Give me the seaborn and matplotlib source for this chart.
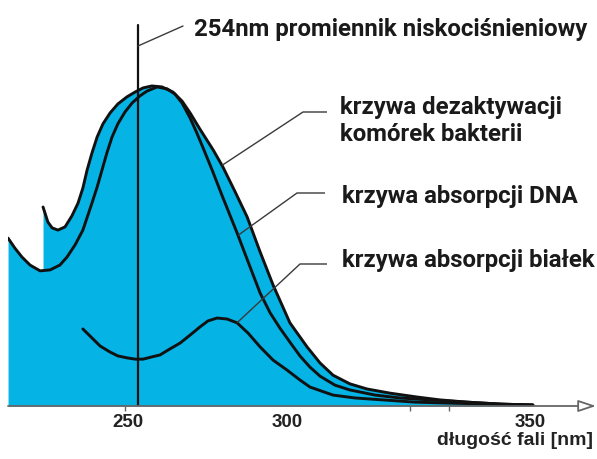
import numpy as np
import pandas as pd
import matplotlib
matplotlib.use("Agg")
import matplotlib.pyplot as plt
import seaborn as sns

# ---------------- data (wavelength nm, relative value %) ----------------
deact_nm = [224.7, 226.2, 227.5, 229.3, 231.5, 233.6, 235.5, 237.0, 238.3, 239.8,
            241.4, 243.2, 245.4, 247.8, 250.6, 253.1, 255.6, 258.3, 261.4, 264.8,
            267.6, 270.1, 273.1, 277.2, 280.2, 284.0, 287.7, 291.7, 295.7, 300.9,
            306.2, 310.2, 314.2, 319.4, 324.7, 331.8, 340.1, 347.2, 355.6, 365.7, 375.9]
deact_val = [62.0, 57.3, 55.5, 54.8, 55.8, 59.2, 63.2, 67.9, 73.5, 78.8,
             83.8, 87.9, 91.3, 94.1, 96.3, 97.8, 99.1, 99.7, 99.4, 97.8,
             95.0, 91.3, 86.3, 79.8, 74.5, 66.7, 58.9, 48.0, 37.7, 25.9,
             18.4, 13.4, 9.6, 6.9, 5.3, 4.0, 2.8, 1.9, 1.2, 0.6, 0.3]

dna_nm = [213.9, 216.0, 218.2, 220.7, 223.8, 226.9, 229.9, 232.1, 234.6, 237.0,
          239.8, 241.4, 242.9, 244.4, 246.0, 247.8, 250.0, 252.2, 254.6, 256.8,
          259.9, 263.0, 265.4, 267.6, 270.1, 272.2, 274.1, 276.9, 279.9, 284.6,
          288.0, 291.7, 294.8, 297.8, 300.9, 304.0, 307.1, 310.2, 314.8, 319.4,
          327.2, 334.9, 344.1, 355.6, 365.7, 375.9]
dna_val = [52.3, 49.2, 46.4, 43.9, 42.1, 42.4, 43.9, 46.4, 50.2, 54.8,
           63.2, 68.2, 73.5, 78.8, 83.8, 87.9, 91.6, 94.4, 96.6, 98.1,
           99.4, 98.8, 97.2, 94.4, 89.7, 85.0, 80.4, 73.5, 65.7, 53.9,
           44.9, 35.2, 29.0, 24.3, 19.9, 15.6, 12.1, 9.3, 6.5, 5.0,
           3.4, 2.5, 1.9, 1.2, 0.6, 0.3]

prot_nm = [237.0, 239.8, 242.3, 245.4, 247.8, 250.6, 253.1, 255.6, 258.3, 260.8,
           263.9, 267.0, 270.1, 273.1, 275.6, 278.4, 281.5, 284.6, 288.0, 291.7,
           295.7, 300.0, 304.0, 307.1, 314.2, 321.0, 329.6, 339.5, 350.3, 362.7, 375.9]
prot_val = [24.0, 21.2, 18.7, 16.8, 15.6, 15.0, 14.6, 14.6, 15.3, 15.9,
            17.8, 19.6, 22.1, 24.6, 26.5, 27.4, 27.1, 25.9, 22.7, 18.4,
            14.3, 11.2, 8.1, 5.9, 3.4, 2.5, 1.9, 1.2, 0.9, 0.6, 0.3]

lamp_nm = 254
tick_marks = [250, 300, 338, 350]
tick_label_pos = [251, 300, 375]
tick_labels = ["250", "300", "350"]

title_text = "254nm promiennik niskociśnieniowy"
label_deact = ["krzywa dezaktywacji", "komórek bakterii"]
label_dna = "krzywa absorpcji DNA"
label_prot = "krzywa absorpcji białek"
xlabel = "długość fali [nm]"

# ---------------- style ----------------
sns.set_theme(style="white")
plt.rcParams["font.family"] = ["DejaVu Sans"]

W, H = 597, 459
fig = plt.figure(figsize=(W / 100, H / 100), dpi=100)
fig.patch.set_facecolor("white")

# pixel calibration (layout only)
X0PX, NM0, PXNM = 125.0, 250.0, 3.24
Y0PX, PXV = 406.0, 3.21
def px2x(px):
    return NM0 + (px - X0PX) / PXNM
def px2y(py):
    return (Y0PX - py) / PXV

left_px = 8
ax = fig.add_axes([left_px / W, (H - Y0PX) / H, (W - left_px) / W, Y0PX / H])
ax.set_xlim(px2x(left_px), px2x(W))
ax.set_ylim(0, px2y(0))
ax.set_facecolor("none")
for s in ax.spines.values():
    s.set_visible(False)

CYAN = "#06B3E5"
LINE = "#111111"
LEAD = "#3a3a3a"

# fill under outer envelope: DNA curve left of deactivation start, deactivation after
dn = np.array(dna_nm); dv = np.array(dna_val)
bn = np.array(deact_nm); bv = np.array(deact_val)
mask = dn < bn[0]
fx = np.concatenate([dn[mask], [bn[0]], bn])
fy = np.concatenate([dv[mask], [np.interp(bn[0], dn, dv)], bv])
ax.fill_between(fx, fy, 0, color=CYAN, lw=0, zorder=1)

df_b = pd.DataFrame({"nm": deact_nm, "v": deact_val})
df_a = pd.DataFrame({"nm": dna_nm, "v": dna_val})
df_c = pd.DataFrame({"nm": prot_nm, "v": prot_val})
for df in (df_b, df_a, df_c):
    sns.lineplot(data=df, x="nm", y="v", ax=ax, color=LINE, lw=2.1,
                 sort=False, zorder=3)
ax.set_xlabel(""); ax.set_ylabel("")

# 254 nm lamp line
ax.axvline(lamp_nm, ymin=0, ymax=px2y(25) / px2y(0), color=LINE, lw=1.6, zorder=4)

# baseline with open arrow
ax.annotate("", xy=(px2x(596), 0), xytext=(px2x(left_px), 0),
            arrowprops=dict(arrowstyle="-|>,head_length=0.9,head_width=0.3",
                            fc="white", ec="#666666", lw=1.3, shrinkA=0, shrinkB=0),
            annotation_clip=False, zorder=5)

# ticks
ax.set_yticks([])
ax.set_xticks(tick_label_pos)
ax.set_xticklabels(tick_labels, fontfamily="Liberation Sans", fontweight="bold",
                   fontsize=13.5, color="#222222")
ax.tick_params(axis="x", which="major", length=0, pad=5.5, bottom=True)
ax.set_xticks(tick_marks, minor=True)
ax.tick_params(axis="x", which="minor", direction="inout", length=7, width=1.0,
               color="#666666", bottom=True)

# labels + leaders
FS = 17.3
lab_kw = dict(fontfamily="Roboto", fontweight="bold", fontsize=FS, color="#1a1a1a",
              va="baseline", ha="left")

def leader(curve_nm, curve_v, at_nm, elbow_px, end_px):
    yv = np.interp(at_nm, curve_nm, curve_v)
    ex, ey = elbow_px
    ax.plot([at_nm, px2x(ex), px2x(end_px)], [yv, px2y(ey), px2y(ey)],
            color=LEAD, lw=1.0, zorder=4, solid_capstyle="butt")

# title & its leader
ax.plot([lamp_nm, px2x(183)], [px2y(46), px2y(26)], color=LEAD, lw=1.0, zorder=4)
fig.text(194 / W, 1 - 36 / H, title_text, **lab_kw)

leader(deact_nm, deact_val, px2x(222), (303, 112), 327)
fig.text(340 / W, 1 - 114 / H, label_deact[0], **lab_kw)
fig.text(340 / W, 1 - 141 / H, label_deact[1], **lab_kw)

leader(dna_nm, dna_val, px2x(238), (297, 193), 325)
fig.text(342 / W, 1 - 203 / H, label_dna, **lab_kw)

leader(prot_nm, prot_val, px2x(237), (300, 264), 327)
fig.text(342 / W, 1 - 267 / H, label_prot, **lab_kw)

fig.text(593 / W, 1 - 445 / H, xlabel, fontfamily="Liberation Sans",
         fontweight="bold", fontsize=14, color="#222222", ha="right", va="baseline")

fig.savefig("out.png", dpi=100, facecolor="white")
